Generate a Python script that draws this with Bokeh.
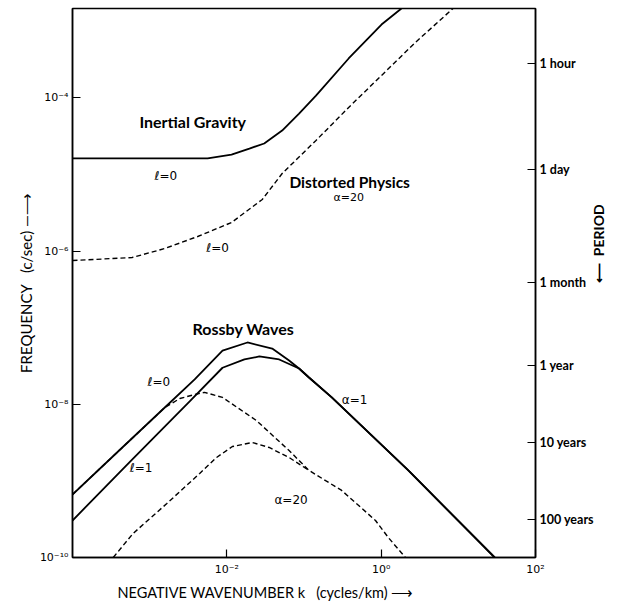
import math
from bokeh.plotting import figure
from bokeh.models import FixedTicker, LogAxis, Label, Title
from bokeh.embed import file_html
from bokeh.resources import INLINE

# ---------------- data (wavenumber k in cycles/km, frequency in c/sec) ----------------
# Inertial gravity, l=0 (solid)
ig_k = [1.0e-4, 5.64e-3, 1.15e-2, 1.96e-2, 3.05e-2, 5.21e-2, 8.63e-2, 0.143, 0.379, 1.01, 1.83]
ig_f = [1.62e-5, 1.62e-5, 1.82e-5, 2.18e-5, 2.54e-5, 3.75e-5, 6.25e-5, 1.07e-4, 3.27e-4, 9.08e-4, 1.47e-3]

# Distorted physics, alpha=20, l=0 (dashed)
dp_k = [1.0e-4, 5.92e-4, 1.57e-3, 4.19e-3, 1.15e-2, 2.88e-2, 5.21e-2, 0.143, 0.379, 1.01, 2.77, 8.53]
dp_f = [7.53e-7, 8.24e-7, 1.08e-6, 1.55e-6, 2.36e-6, 4.72e-6, 1.03e-5, 2.78e-5, 7.50e-5, 1.96e-4, 5.28e-4, 1.47e-3]

# Rossby waves, alpha=1, l=0 (solid)
r10_k = [1.0e-4, 4.15e-4, 1.57e-3, 3.83e-3, 8.79e-3, 1.85e-2, 3.87e-2, 6.41e-2, 8.63e-2, 0.116, 0.229, 2.25, 29.6]
r10_f = [6.64e-10, 2.57e-9, 9.08e-9, 2.11e-8, 5.03e-8, 6.41e-8, 5.34e-8, 3.73e-8, 2.93e-8, 2.24e-8, 1.23e-8, 1.37e-9, 1.0e-10]

# Rossby waves, alpha=1, l=1 (solid)
r11_k = [1.0e-4, 5.58e-4, 3.30e-3, 8.79e-3, 1.69e-2, 2.64e-2, 4.77e-2, 8.63e-2, 0.116, 0.229, 2.25, 29.6]
r11_f = [3.04e-10, 1.79e-9, 1.09e-8, 3.0e-8, 3.85e-8, 4.21e-8, 3.85e-8, 2.93e-8, 2.24e-8, 1.23e-8, 1.37e-9, 1.0e-10]

# Rossby waves, alpha=20, l=0 (dashed)
r20_k = [1.0e-4, 4.15e-4, 1.57e-3, 2.46e-3, 3.83e-3, 5.15e-3, 8.79e-3, 2.41e-2, 6.41e-2, 0.116, 0.308, 0.845, 1.24, 2.06]
r20_f = [6.64e-10, 2.57e-9, 9.08e-9, 1.19e-8, 1.34e-8, 1.43e-8, 1.23e-8, 6.15e-9, 2.49e-9, 1.37e-9, 7.50e-10, 3.04e-10, 1.82e-10, 1.0e-10]

# Rossby waves, alpha=20, l=1 (dashed)
r21_k = [3.37e-4, 6.10e-4, 1.67e-3, 4.45e-3, 7.36e-3, 1.18e-2, 2.14e-2, 3.54e-2, 6.41e-2, 0.116]
r21_f = [1.0e-10, 2.06e-10, 5.07e-10, 1.25e-9, 2.02e-9, 2.81e-9, 3.17e-9, 2.73e-9, 2.02e-9, 1.37e-9]

# axes
k_ticks = [1e-2, 1.0, 1e2]
k_tick_labels = ["10\u207b\u00b2", "10\u2070", "10\u00b2"]
f_ticks = [1e-10, 1e-8, 1e-6, 1e-4]
f_tick_labels = ["10\u207b\u00b9\u2070", "10\u207b\u2078", "10\u207b\u2076", "10\u207b\u2074"]
period_labels = ["1 hour", "1 day", "1 month", "1 year", "10 years", "100 years"]
period_seconds = [3600.0, 86400.0, 2.592e6, 3.156e7, 3.156e8, 3.156e9]

K_MIN, K_MAX = 1e-4, 1e2
F_MIN, F_MAX = 1e-10, 10 ** -2.833

# ---------------- figure ----------------
p = figure(width=618, height=605, x_axis_type="log", y_axis_type="log",
           x_range=(K_MIN, K_MAX), y_range=(F_MIN, F_MAX),
           output_backend="svg", toolbar_location=None,
           min_border_left=72, min_border_right=80, min_border_top=8, min_border_bottom=48)
p.grid.visible = False
p.outline_line_color = "black"
p.outline_line_width = 1.5
p.background_fill_color = "white"
p.border_fill_color = "white"

TICK_FONT = "DejaVu Sans"
LAB_FONT = "Lato"
NB = "\u00a0"

for ax in (p.xaxis[0], p.yaxis[0]):
    ax.axis_line_width = 1.5
    ax.major_tick_in = 8
    ax.major_tick_out = 0
    ax.minor_tick_line_color = None
    ax.major_tick_line_width = 1.2
    ax.major_label_text_font = TICK_FONT
    ax.major_label_text_font_size = "11px"
    ax.major_label_text_color = "black"

p.xaxis[0].ticker = FixedTicker(ticks=k_ticks)
p.xaxis[0].major_label_overrides = {t: s for t, s in zip(k_ticks, k_tick_labels)}
p.xaxis[0].major_label_standoff = 5
p.yaxis[0].ticker = FixedTicker(ticks=f_ticks)
p.yaxis[0].major_label_overrides = {t: s for t, s in zip(f_ticks, f_tick_labels)}
p.yaxis[0].major_label_standoff = 4

period_freqs = [1.0 / s for s in period_seconds]
rax = LogAxis(ticker=FixedTicker(ticks=period_freqs),
              major_label_overrides={f: s for f, s in zip(period_freqs, period_labels)})
rax.axis_line_width = 1.5
rax.major_tick_in = 8
rax.major_tick_out = 0
rax.minor_tick_line_color = None
rax.major_tick_line_width = 1.2
rax.major_label_standoff = 4
rax.major_label_text_font = LAB_FONT
rax.major_label_text_font_style = "bold"
rax.major_label_text_font_size = "12.5px"
rax.major_label_text_color = "black"
rax.axis_label = "\u27f5" + NB + NB + "PERIOD"
rax.axis_label_orientation = math.pi / 2
rax.axis_label_standoff = 2
rax.axis_label_text_font = LAB_FONT
rax.axis_label_text_font_style = "bold"
rax.axis_label_text_font_size = "14px"
rax.axis_label_text_color = "black"
p.add_layout(rax, "right")

# axis titles
p.add_layout(Title(text="FREQUENCY" + NB * 3 + "(c/sec)" + NB + "\u2014\u27f6", align="center",
                   offset=0, standoff=4, text_color="black",
                   text_font=LAB_FONT, text_font_style="normal", text_font_size="15px"), "left")
p.add_layout(Title(text="NEGATIVE WAVENUMBER k" + NB * 3 + "(cycles/km)" + NB + "\u27f6",
                   align="left", offset=45, standoff=7, text_color="black",
                   text_font=LAB_FONT, text_font_style="normal", text_font_size="14.5px"), "below")

# ---------------- curves ----------------
SOLID_W = 1.8
DASH_W = 1.4
DASH = "5 3"
p.line(ig_k, ig_f, line_color="black", line_width=SOLID_W)
p.line(dp_k, dp_f, line_color="black", line_width=DASH_W, line_dash=DASH)
p.line(r10_k, r10_f, line_color="black", line_width=SOLID_W)
p.line(r11_k, r11_f, line_color="black", line_width=SOLID_W)
p.line(r20_k, r20_f, line_color="black", line_width=DASH_W, line_dash=DASH)
p.line(r21_k, r21_f, line_color="black", line_width=DASH_W, line_dash=DASH)

# ---------------- labels ----------------
def at(px, py):
    """convert a reference-image pixel position into data coordinates"""
    return 10 ** (-4 + (px - 72) / 77.67), 10 ** (-10 + (557 - py) / 76.6)

def lab(text, px, py, size, font=LAB_FONT, style="bold"):
    x, y = at(px, py)
    p.add_layout(Label(x=x, y=y, text=text, text_font=font, text_font_size=size,
                       text_font_style=style, text_align="center", text_baseline="middle",
                       text_color="black"))

lab("Inertial Gravity", 193, 121, "16px")
lab("Distorted Physics", 351, 182, "15.5px")
lab("Rossby Waves", 244, 328, "16px")
lab("\u2113=0", 166, 176, "12px", font=TICK_FONT, style="normal")
lab("\u2113=0", 218, 248, "12px", font=TICK_FONT, style="normal")
lab("\u03b1=20", 350, 197, "11px", font=TICK_FONT, style="normal")
lab("\u2113=0", 159, 382, "12px", font=TICK_FONT, style="normal")
lab("\u2113=1", 141, 468, "12px", font=TICK_FONT, style="normal")
lab("\u03b1=20", 292, 500, "12px", font=TICK_FONT, style="normal")
lab("\u03b1=1", 356, 400, "12px", font=TICK_FONT, style="normal")

open("out.html", "w").write(file_html(p, INLINE))
